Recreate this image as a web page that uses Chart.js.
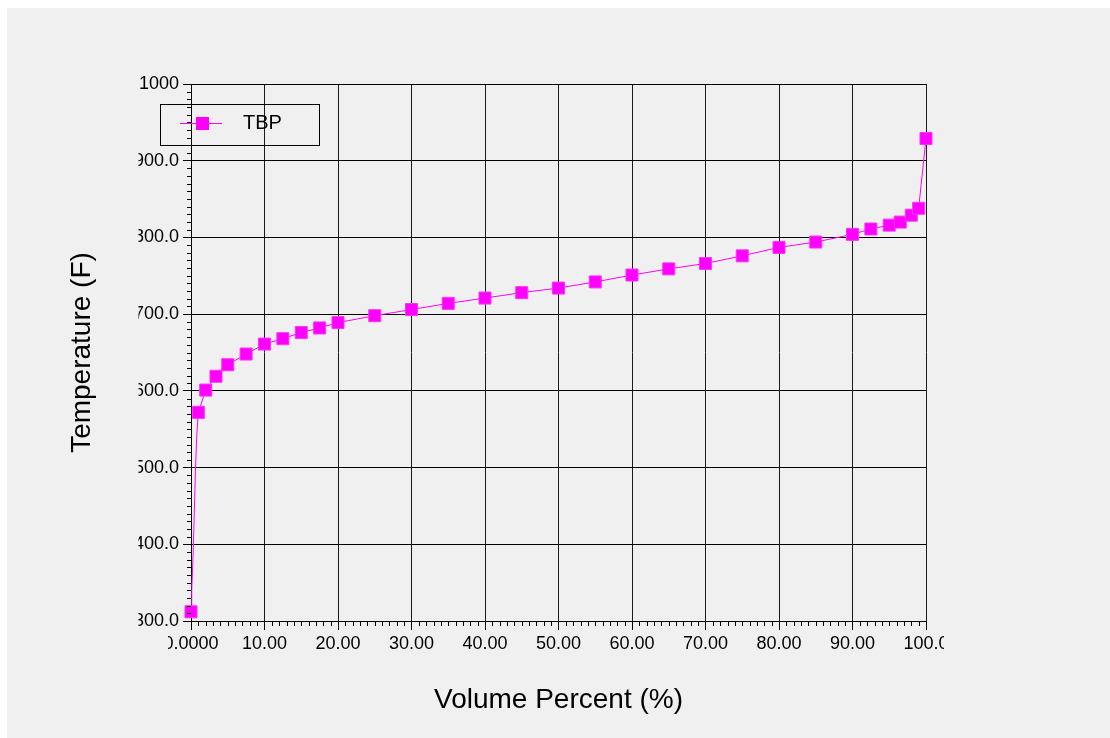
<!DOCTYPE html>
<html>
<head>
<meta charset="utf-8">
<script src="https://cdn.jsdelivr.net/npm/chart.js@4.4.0/dist/chart.umd.min.js"></script>
<style>
    html, body { margin: 0; padding: 0; background: #ffffff; }
    canvas { display: block; }
</style>
</head>
<body>
<canvas id="tbpChart" width="1110" height="738"></canvas>
<script>
// TBP points (the ones with markers)
const volumePct = [0, 1, 2, 3.4, 5, 7.5, 10, 12.5, 15, 17.5, 20, 25, 30, 35, 40, 45, 50,
    55, 60, 65, 70, 75, 80, 85, 90, 92.5, 95, 96.5, 98, 99, 100];
const tempF = [312, 572, 601, 619, 634, 648, 661, 668, 676, 682, 689, 698, 706, 714, 721, 728, 734,
    742, 751, 759, 766, 776, 787, 794, 804, 811, 816, 820, 829, 838, 929];

// extra points of the drawn curve near the start (no markers there)
const curvePct = [0.1, 0.3, 0.45, 0.6, 0.8];
const curveTemp = [340, 390, 442, 495, 545];

const xTickLabels = ['0.0000', '10.00', '20.00', '30.00', '40.00', '50.00', '60.00', '70.00', '80.00', '90.00', '100.0'];
const yTickLabels = ['300.0', '400.0', '500.0', '600.0', '700.0', '800.0', '900.0', '1000'];

const points = volumePct.map((x, i) => ({ x: x, y: tempF[i], marked: true }))
    .concat(curvePct.map((x, i) => ({ x: x, y: curveTemp[i], marked: false })))
    .sort((a, b) => a.x - b.x);

const FONT = '"Liberation Sans", Arial, sans-serif';

const background = {
    id: 'background',
    beforeDraw(chart) {
        const ctx = chart.ctx;
        ctx.save();
        ctx.fillStyle = '#ffffff';
        ctx.fillRect(0, 0, chart.width, chart.height);
        ctx.fillStyle = '#f0f0f0';
        ctx.fillRect(7, 8, chart.width - 7, chart.height - 8);
        ctx.restore();
    }
};

// small ticks between the labelled ones
const minorTicks = {
    id: 'minorTicks',
    afterDraw(chart) {
        const { ctx, chartArea: a } = chart;
        const x = chart.scales.x, y = chart.scales.y;
        ctx.save();
        ctx.strokeStyle = '#000';
        ctx.lineWidth = 1;
        ctx.beginPath();
        for (let v = x.min; v <= x.max; v += 1) {
            if (v % 10 === 0) continue;
            const px = Math.round(x.getPixelForValue(v)) + 0.5;
            ctx.moveTo(px, a.bottom);
            ctx.lineTo(px, a.bottom + 5);
        }
        for (let v = y.min; v <= y.max; v += 10) {
            if (v % 100 === 0) continue;
            const py = Math.round(y.getPixelForValue(v)) + 0.5;
            ctx.moveTo(a.left - 4, py);
            ctx.lineTo(a.left, py);
        }
        ctx.stroke();
        ctx.restore();
    }
};

// the original cuts its tick labels off at the edges
const labelClip = {
    id: 'labelClip',
    afterDraw(chart) {
        const ctx = chart.ctx;
        ctx.save();
        ctx.fillStyle = '#f0f0f0';
        ctx.fillRect(100, 70, 38.5, 565);
        ctx.fillRect(140, 631, 28, 30);
        ctx.fillRect(944, 631, 40, 30);
        ctx.restore();
    }
};

const legendBox = {
    id: 'legendBox',
    afterDraw(chart) {
        const ctx = chart.ctx;
        const ds = chart.data.datasets[0];
        ctx.save();
        ctx.strokeStyle = '#000';
        ctx.lineWidth = 1;
        ctx.strokeRect(160.5, 104.5, 159, 41);
        ctx.strokeStyle = ds.borderColor;
        ctx.beginPath();
        ctx.moveTo(180, 123.5);
        ctx.lineTo(222, 123.5);
        ctx.stroke();
        ctx.fillStyle = ds.pointBackgroundColor;
        ctx.fillRect(196, 117, 13, 13);
        ctx.fillStyle = '#000';
        ctx.font = '20px ' + FONT;
        ctx.textBaseline = 'middle';
        ctx.fillText(ds.label, 243, 123);
        ctx.restore();
    }
};

const ctx = document.getElementById('tbpChart').getContext('2d');
new Chart(ctx, {
    type: 'line',
    data: {
        datasets: [{
            label: 'TBP',
            data: points,
            borderColor: '#ff00ff',
            borderWidth: 1,
            tension: 0,
            clip: false,
            pointStyle: 'rect',
            pointRadius: (c) => (c.raw && c.raw.marked ? 8.5 : 0),
            pointHoverRadius: (c) => (c.raw && c.raw.marked ? 8.5 : 0),
            pointBackgroundColor: '#ff00ff',
            pointBorderColor: '#ff33ff',
            pointBorderWidth: 1
        }]
    },
    options: {
        responsive: false,
        animation: false,
        events: [],
        layout: { padding: { left: 0, top: 84, right: 184, bottom: 0 } },
        plugins: {
            legend: { display: false },
            tooltip: { enabled: false }
        },
        scales: {
            x: {
                type: 'linear',
                min: 0,
                max: 100,
                afterFit: (s) => { s.height = 117; },
                border: { color: '#000', width: 1 },
                grid: { color: '#1a1a1a', lineWidth: 1, drawTicks: true, tickLength: 9, tickColor: '#000' },
                ticks: {
                    stepSize: 10,
                    autoSkip: false,
                    maxRotation: 0,
                    padding: 3,
                    color: '#000',
                    font: { family: FONT, size: 18 },
                    callback: (v, i) => xTickLabels[i]
                },
                title: {
                    display: true,
                    text: 'Volume Percent (%)',
                    color: '#000',
                    font: { family: FONT, size: 28 },
                    padding: { top: 0, bottom: 21 }
                }
            },
            y: {
                type: 'linear',
                min: 300,
                max: 1000,
                afterFit: (s) => { s.width = 191; },
                border: { color: '#000', width: 1 },
                grid: { color: '#000', lineWidth: 1, drawTicks: true, tickLength: 8, tickColor: '#000' },
                ticks: {
                    stepSize: 100,
                    autoSkip: false,
                    padding: 4,
                    color: '#000',
                    font: { family: FONT, size: 18 },
                    callback: (v, i) => yTickLabels[i]
                },
                title: {
                    display: true,
                    text: 'Temperature (F)',
                    color: '#000',
                    font: { family: FONT, size: 28 },
                    padding: { top: 65, bottom: 0 }
                }
            }
        }
    },
    plugins: [background, minorTicks, labelClip, legendBox]
});
</script>
</body>
</html>
